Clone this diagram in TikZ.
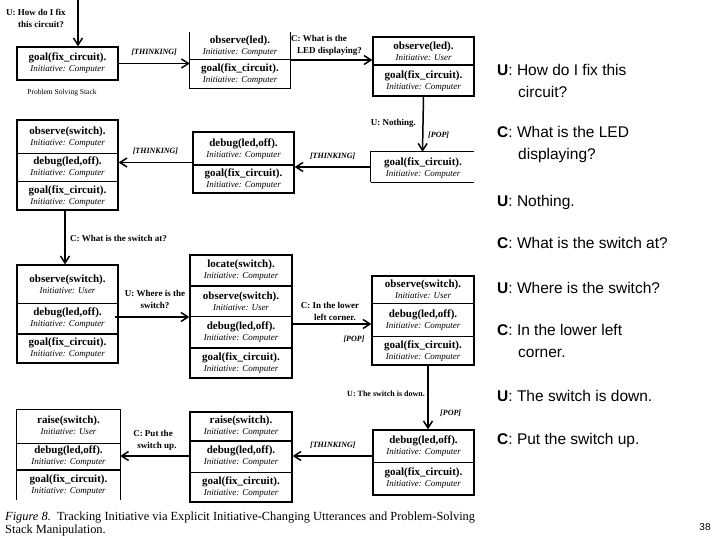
\documentclass[tikz,border=0pt]{standalone}
\usepackage{fontspec}
\setmainfont{Liberation Serif}
\newfontfamily\sansf{Liberation Sans}
\usetikzlibrary{arrows.meta}
\begin{document}
\begin{tikzpicture}[x=1pt,y=-1pt,
  box/.style={draw,line width=1.3pt,inner sep=0pt},
  cell/.style={align=center,inner sep=0pt,font=\fontsize{11}{12}\selectfont},
  lab/.style={align=center,inner sep=0pt,font=\fontsize{9}{12}\selectfont\bfseries},
  thk/.style={font=\fontsize{8}{10}\selectfont\bfseries\itshape,inner sep=0pt},
  arr/.style={line width=1.5pt,-{Straight Barb[length=7pt,width=9pt]}},
  thin/.style={line width=0.8pt},
  thick/.style={line width=2.6pt},
  rt/.style={anchor=west,align=left,inner sep=0pt,font=\sansf\fontsize{15.5}{22}\selectfont}]
\useasboundingbox (0,0) rectangle (720,540);
\newcommand{\ce}[4]{\node[cell] (#1) at (#2) {\textbf{#3}\\[-1pt]{\fontsize{9}{10}\selectfont\itshape Initiative: #4}};}
% S1
\node[box,minimum width=101pt,minimum height=33pt] (s1) at (67.5,63.5) {};
\ce{s1a}{67.5,63.5}{goal(fix\_circuit).}{Computer}
\coordinate (top1) at (78,0);
\draw[arr] (top1) -- (s1.north -| top1);
\node[lab,anchor=west,align=left] (l1) at (6,18) {U: How do I fix\\\hspace*{12pt}this circuit?};
\node[font=\fontsize{7.5}{9}\selectfont,inner sep=0pt] (pss) at (62,93) {Problem Solving Stack};
% S2
\node[minimum width=100pt,minimum height=56pt,inner sep=0pt] (s2) at (240,60) {};
\draw[line width=1.3pt] (s2.north west) -- (s2.south west) -- (s2.south east) -- (s2.north east);
\draw[thin] (190,59) -- (290,59);
\ce{s2a}{240,46}{observe(led).}{Computer}
\ce{s2b}{240,74}{goal(fix\_circuit).}{Computer}
\draw[arr] (s1.east) -- (s1.east -| s2.west) node[thk,midway,above=7pt] (t1) {[THINKING]};
% S3
\node[box,minimum width=101pt,minimum height=59pt] (s3) at (423.5,66.5) {};
\draw[thick] (373,65) -- (474,65);
\ce{s3a}{423.5,51}{observe(led).}{User}
\ce{s3b}{423.5,81}{goal(fix\_circuit).}{Computer}
\draw[arr] (s2.east) -- (s2.east -| s3.west);
\node[lab,anchor=west,align=left] (l2) at (291,45) {C: What is the\\\hspace*{6pt}LED displaying?};
% S4
\node[minimum width=103pt,minimum height=30pt,inner sep=0pt] (s4) at (422.5,167) {};
\draw[line width=1.3pt] (s4.south west) -- (s4.north west) -- (s4.north east);
\draw[thin] (s4.south west) -- (s4.south east);
\ce{s4a}{423,168}{goal(fix\_circuit).}{Computer}
\draw[arr] (s3.south) -- (s4.north);
\node[lab,anchor=east] (l3) at (416,123) {U: Nothing.};
\node[thk,anchor=west] (p1) at (428,135) {[POP]};
% S5
\node[box,minimum width=101pt,minimum height=61pt] (s5) at (243.5,162.5) {};
\draw[thick] (193,165) -- (294,165);
\ce{s5a}{243.5,149}{debug(led,off).}{Computer}
\ce{s5b}{243.5,179}{goal(fix\_circuit).}{Computer}
\draw[arr] (s4.west) -- (s4.west -| s5.east) node[thk,midway,above=7pt] (t2) {[THINKING]};
% S6
\node[box,minimum width=101pt,minimum height=90pt] (s6) at (67.5,165) {};
\draw[thin] (17,153) -- (118,153);
\draw[thin] (17,181) -- (118,181);
\ce{s6a}{67.5,137}{observe(switch).}{Computer}
\ce{s6b}{67.5,167}{debug(led,off).}{Computer}
\ce{s6c}{67.5,196}{goal(fix\_circuit).}{Computer}
\draw[arr] (s5.west) -- (s5.west -| s6.east) node[thk,midway,above=7pt] (t3) {[THINKING]};
% S7
\node[box,minimum width=101pt,minimum height=98pt] (s7) at (67.5,314) {};
\draw[thin] (17,303) -- (118,303);
\draw[thick] (17,334) -- (118,334);
\ce{s7a}{67.5,284}{observe(switch).}{User}
\ce{s7b}{67.5,318}{debug(led,off).}{Computer}
\ce{s7c}{67.5,348}{goal(fix\_circuit).}{Computer}
\coordinate (c6) at (65,210);
\draw[arr] (c6) -- (c6 |- s7.north);
\node[lab,anchor=west] (l4) at (70,238) {C: What is the switch at?};
% S8
\node[box,minimum width=102pt,minimum height=123pt] (s8) at (241,316.5) {};
\draw[thick] (190,286) -- (292,286);
\draw[thin] (190,316) -- (292,316);
\draw[thick] (190,348) -- (292,348);
\ce{s8a}{241,270}{locate(switch).}{Computer}
\ce{s8b}{241,301}{observe(switch).}{User}
\ce{s8c}{241,332}{debug(led,off).}{Computer}
\ce{s8d}{241,363}{goal(fix\_circuit).}{Computer}
\coordinate (c7) at (115,317);
\draw[arr] (c7) -- (c7 -| s8.west);
\node[lab] (l5) at (155,299) {U: Where is the\\switch?};
% S9
\node[box,minimum width=102pt,minimum height=89pt] (s9) at (423,320.5) {};
\draw[thin] (372,303) -- (474,303);
\draw[thin] (372,336) -- (474,336);
\ce{s9a}{423,289}{observe(switch).}{User}
\ce{s9b}{423,320}{debug(led,off).}{Computer}
\ce{s9c}{423,351}{goal(fix\_circuit).}{Computer}
\coordinate (c8) at (292,324);
\draw[arr] (c8) -- (c8 -| s9.west);
\node[lab] (l6) at (330,311) {C: In the lower\\\hspace*{10pt}left corner.};
\node[thk] (p2) at (354,339) {[POP]};
% S10
\node[box,minimum width=101pt,minimum height=65pt] (s10) at (423.5,462.5) {};
\draw[thin] (373,462) -- (474,462);
\ce{s10a}{423.5,446}{debug(led,off).}{Computer}
\ce{s10b}{423.5,478}{goal(fix\_circuit).}{Computer}
\coordinate (c9) at (428,365);
\draw[arr] (c9) -- (c9 |- s10.north);
\node[lab,anchor=east,font=\fontsize{8}{9}\selectfont\bfseries] (l7) at (425,394) {U: The switch is down.};
\node[thk,anchor=west] (p3) at (440,413) {[POP]};
% S11
\node[box,minimum width=102pt,minimum height=90pt] (s11) at (241,457) {};
\draw[thick] (190,441) -- (292,441);
\draw[thin] (190,472) -- (292,472);
\ce{s11a}{241,426}{raise(switch).}{Computer}
\ce{s11b}{241,456}{debug(led,off).}{Computer}
\ce{s11c}{241,487}{goal(fix\_circuit).}{Computer}
\coordinate (c10) at (373,456);
\draw[arr] (c10) -- (c10 -| s11.east) node[thk,midway,above=7pt] (t4) {[THINKING]};
% S12
\node[minimum width=103pt,minimum height=90pt,inner sep=0pt] (s12) at (68.5,455) {};
\draw[line width=1.3pt] (s12.south west) -- (s12.north west) -- (s12.north east) -- (s12.south east);
\draw[thin] (17,443) -- (120,443);
\draw[thick] (17,470) -- (120,470);
\ce{s12a}{68.5,425}{raise(switch).}{User}
\ce{s12b}{68.5,456}{debug(led,off).}{Computer}
\ce{s12c}{68.5,485}{goal(fix\_circuit).}{Computer}
\coordinate (c11) at (190,456);
\draw[arr] (c11) -- (c11 -| s12.east);
\node[lab] (l8) at (153,440) {C: Put the\\\hspace*{8pt}switch up.};
% caption
\node[anchor=west,align=left,inner sep=0pt,font=\fontsize{12.4}{13}\selectfont] (cap) at (5,524) {\textit{Figure 8.}\ \ Tracking Initiative via Explicit Initiative-Changing Utterances and Problem-Solving\\Stack Manipulation.};
% right text
\node[rt] (r1) at (497,81) {\textbf{U}: How do I fix this\\\hspace*{21pt}circuit?};
\node[rt] (r2) at (497,144) {\textbf{C}: What is the LED\\\hspace*{21pt}displaying?};
\node[rt] (r3) at (497,202) {\textbf{U}: Nothing.};
\node[rt] (r4) at (497,243) {\textbf{C}: What is the switch at?};
\node[rt] (r5) at (497,288) {\textbf{U}: Where is the switch?};
\node[rt] (r6) at (497,341) {\textbf{C}: In the lower left\\\hspace*{21pt}corner.};
\node[rt] (r7) at (497,396) {\textbf{U}: The switch is down.};
\node[rt] (r8) at (497,440) {\textbf{C}: Put the switch up.};
\node[font=\sansf\fontsize{10}{12}\selectfont,inner sep=0pt] (pg) at (705,527) {38};
\end{tikzpicture}
\end{document}
